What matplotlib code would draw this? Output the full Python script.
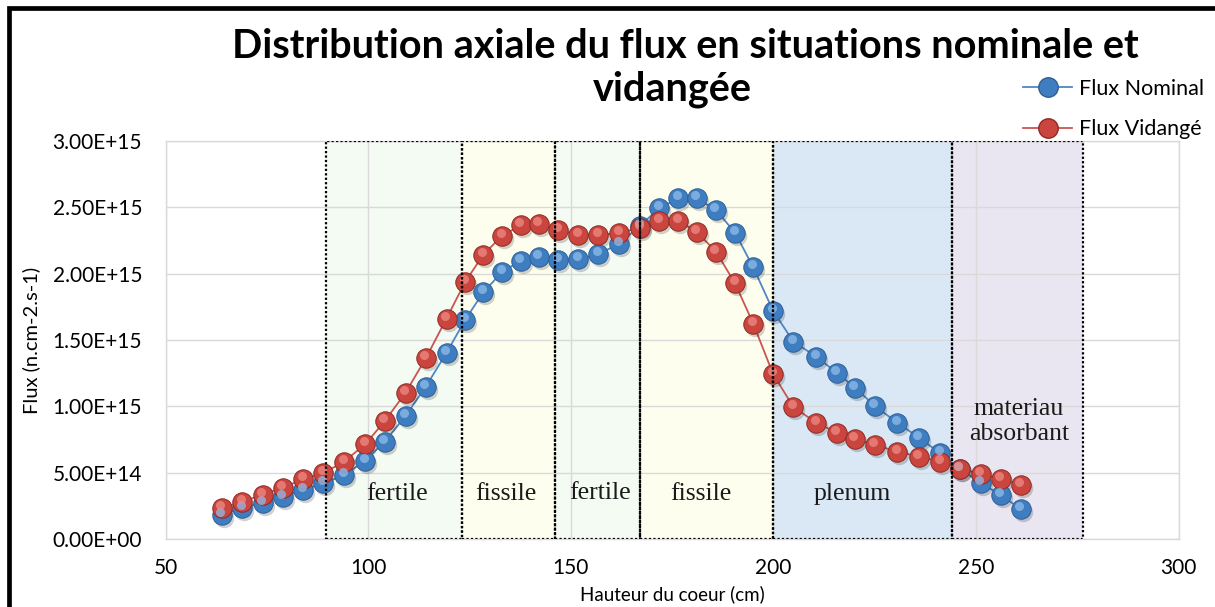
import matplotlib as mpl
import matplotlib.pyplot as plt
import matplotlib.transforms as mtransforms
from matplotlib.lines import Line2D
from matplotlib.patches import Rectangle
from matplotlib.ticker import FuncFormatter, MultipleLocator

mpl.rcParams['font.family'] = ['Lato', 'DejaVu Sans']

E15 = 1e15

# hauteur du coeur (cm)
HAUTEUR = [63.8, 68.9, 73.9, 78.9, 84.0, 88.9, 94.0, 99.2, 104.1, 109.2,
           114.2, 119.3, 123.9, 128.4, 133.0, 137.6, 142.1, 146.9, 151.8, 156.8,
           161.9, 167.1, 171.8, 176.5, 181.0, 185.8, 190.5, 195.0, 199.9, 204.9,
           210.5, 215.6, 220.1, 225.0, 230.5, 235.9, 241.1, 246.0, 251.1, 256.1,
           261.0]

# flux en 1e15 n.cm-2.s-1
FLUX_NOMINAL = [0.181, 0.232, 0.274, 0.319, 0.370, 0.420, 0.478, 0.590, 0.734, 0.928,
                1.149, 1.403, 1.652, 1.861, 2.012, 2.099, 2.124, 2.106, 2.109, 2.149,
                2.225, 2.363, 2.494, 2.569, 2.569, 2.481, 2.310, 2.049, 1.720, 1.488,
                1.375, 1.254, 1.141, 1.003, 0.877, 0.764, 0.646, 0.530, 0.420, 0.332,
                0.224]
FLUX_VIDANGE = [0.232, 0.281, 0.332, 0.387, 0.450, 0.495, 0.583, 0.712, 0.890, 1.103,
                1.363, 1.662, 1.938, 2.145, 2.286, 2.366, 2.372, 2.330, 2.293, 2.290,
                2.308, 2.347, 2.400, 2.400, 2.317, 2.167, 1.928, 1.624, 1.243, 0.995,
                0.877, 0.802, 0.752, 0.709, 0.658, 0.621, 0.583, 0.530, 0.488, 0.450,
                0.407]

# zones du coeur (cm)
ZONE_DEBUT = [89.5, 123.0, 146.0, 167.0, 200.0, 244.0]
ZONE_FIN = [123.0, 146.0, 167.0, 200.0, 244.0, 276.5]
ZONE_NOM = ['fertile', 'fissile', 'fertile', 'fissile', 'plenum', 'materiau\nabsorbant']

ZONE_COULEUR = ['#F4FBF3', '#FEFEEF', '#F4FBF3', '#FEFEEF', '#DAE8F5', '#EAE6F1']
ZONE_TEXTE_X = [107.1, 134.0, 157.2, 182.1, 219.4, 260.6]
ZONE_TEXTE_Y = [0.29, 0.29, 0.30, 0.29, 0.29, 0.747]

BLEU = '#3F7DC1'
BLEU_LIGNE = '#4F86C6'
ROUGE = '#C9453E'
ROUGE_LIGNE = '#C8554F'

fig = plt.figure(figsize=(12.15, 6.07), dpi=100)
ax = fig.add_axes([0.1364, 0.1123, 0.9701 - 0.1364, 0.7674 - 0.1123])

y_nom = [v * E15 for v in FLUX_NOMINAL]
y_vid = [v * E15 for v in FLUX_VIDANGE]

for x0, x1, c in zip(ZONE_DEBUT, ZONE_FIN, ZONE_COULEUR):
    ax.add_patch(Rectangle((x0, 0), x1 - x0, 3.0 * E15, facecolor=c, edgecolor='none', zorder=0.2))
for x0, x1 in zip(ZONE_DEBUT, ZONE_FIN):
    ax.add_patch(Rectangle((x0, 0), x1 - x0, 3.0 * E15, fill=False, edgecolor='black',
                           linestyle=(0, (1, 1)), linewidth=1.6, zorder=6))
for tx, ty, nom in zip(ZONE_TEXTE_X, ZONE_TEXTE_Y, ZONE_NOM):
    ax.text(tx, ty * E15, nom, ha='center', va='baseline', fontsize=18.5,
            family='Liberation Serif', color='#1a1a1a', linespacing=1.15, zorder=7)


def plot_boules(x, y, base, ligne, bord, reflet):
    ombre = mtransforms.offset_copy(ax.transData, fig=fig, x=2, y=-3, units='dots')
    haut = mtransforms.offset_copy(ax.transData, fig=fig, x=-1.5, y=3, units='dots')
    ax.plot(x, y, color=ligne, linewidth=1.3, zorder=2)
    ax.plot(x, y, 'o', ms=14, color='#000000', alpha=0.18, mec='none', transform=ombre, zorder=2.5)
    ax.plot(x, y, 'o', ms=14, mfc=base, mec=bord, mew=0.7, zorder=3)
    ax.plot(x, y, 'o', ms=6.5, mfc=reflet, mec='none', alpha=0.75, transform=haut, zorder=3.1)


plot_boules(HAUTEUR, y_nom, BLEU, BLEU_LIGNE, '#2E5F97', '#8FBDEB')
plot_boules(HAUTEUR, y_vid, ROUGE, ROUGE_LIGNE, '#8E2B27', '#EE8A84')

ax.set_xlim(50, 300)
ax.set_ylim(0, 3.0 * E15)
ax.xaxis.set_major_locator(MultipleLocator(50))
ax.yaxis.set_major_locator(MultipleLocator(0.5 * E15))
ax.yaxis.set_major_formatter(FuncFormatter(lambda v, p: f'{v:.2E}'))
ax.set_axisbelow(True)
ax.grid(True, color='#D9D9D9', linewidth=1.0)
for s in ax.spines.values():
    s.set_color('#D9D9D9')
    s.set_linewidth(1.0)
ax.tick_params(length=0, labelsize=15)
ax.tick_params(axis='y', pad=17)
ax.tick_params(axis='x', pad=14)

ax.set_xlabel('Hauteur du coeur (cm)', fontsize=13.5, labelpad=5)
ax.set_ylabel('Flux (n.cm-2.s-1)', fontsize=14.5, labelpad=9)

fig.text(685 / 1215, 1 - 58 / 607, 'Distribution axiale du flux en situations nominale et',
         ha='center', va='baseline', fontsize=28.5, fontweight='bold')
fig.text(672 / 1215, 1 - 101 / 607, 'vidangée', ha='center', va='baseline',
         fontsize=28.5, fontweight='bold')

poignees = [
    Line2D([], [], color=BLEU_LIGNE, lw=1.3, marker='o', ms=14, mfc=BLEU, mec='#2E5F97'),
    Line2D([], [], color=ROUGE_LIGNE, lw=1.3, marker='o', ms=14, mfc=ROUGE, mec='#8E2B27'),
]
fig.legend(poignees, ['Flux Nominal', 'Flux Vidangé'], loc='upper left',
           bbox_to_anchor=(1012 / 1215, 1 - 68 / 607), frameon=False, fontsize=15.5,
           handlelength=2.3, handletextpad=0.3, labelspacing=0.95, borderpad=0)

fig.patches.append(Rectangle((9.2 / 1215, -0.1), 2, 1.1 - 7.7 / 607, transform=fig.transFigure,
                             fill=False, edgecolor='black', linewidth=3.4))

fig.savefig('out.png', dpi=100)
